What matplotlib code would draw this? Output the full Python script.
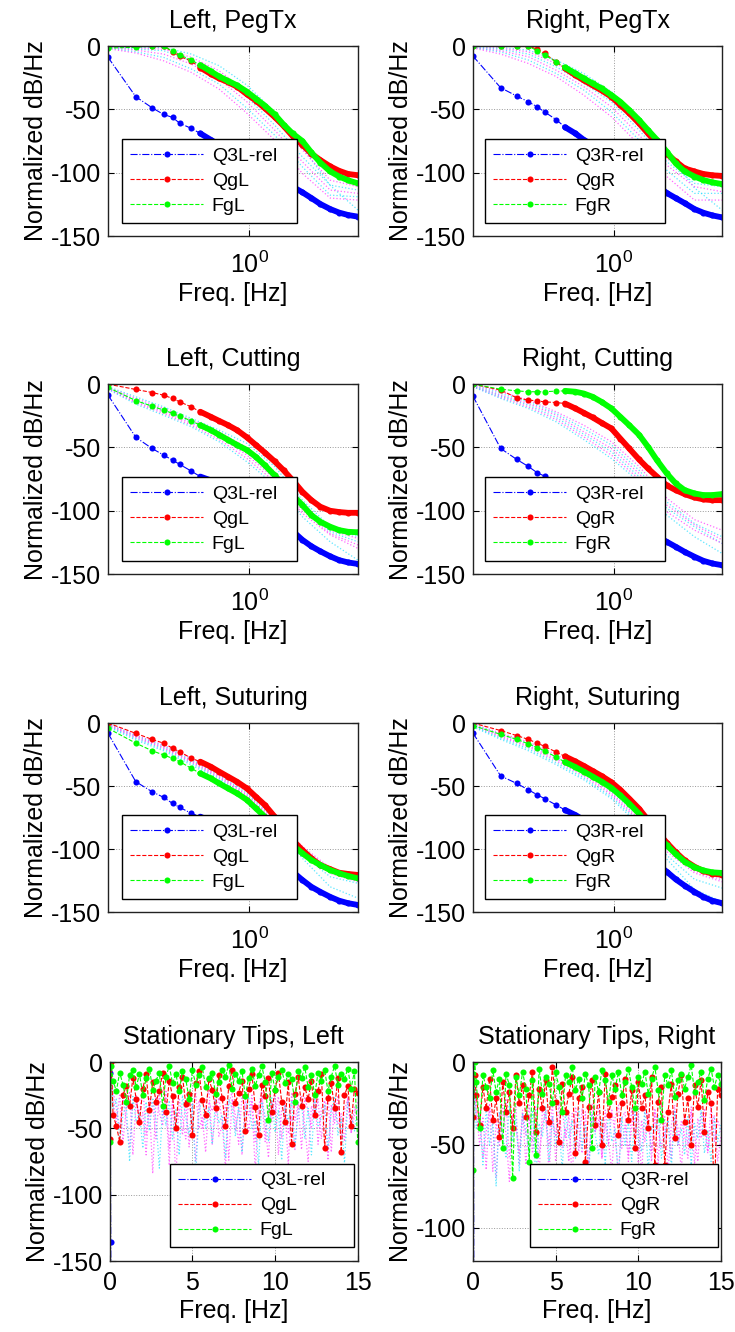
import numpy as np
import matplotlib
matplotlib.use("Agg")
import matplotlib.pyplot as plt
from matplotlib.ticker import FixedLocator, NullLocator

plt.rcParams['font.family'] = ['Liberation Sans', 'DejaVu Sans']
plt.rcParams['mathtext.fontset'] = 'custom'
plt.rcParams['mathtext.rm'] = 'Liberation Sans'
plt.rcParams['mathtext.it'] = 'Liberation Sans'
plt.rcParams['mathtext.default'] = 'regular'
plt.rcParams['axes.unicode_minus'] = False

# ---- frequency grids (Hz) ----
freq_log = [0.0293, 0.0586, 0.0879, 0.1172, 0.1465, 0.1758, 0.2344, 0.2930, 0.3809,
            0.4688, 0.5859, 0.7324, 0.9375, 1.1719, 1.4648, 1.8750, 2.3438, 2.9297,
            3.7500, 4.6875, 5.8594, 7.5000, 9.3750, 11.7188, 15.0000]
faint_freq = [0.0293, 0.0586, 0.1172, 0.2344, 0.4688, 0.9375, 1.875, 3.75, 7.5, 15.0]

# ---- PegTx ----
peg_l_q3 = [-8.9, -40, -48.7, -54, -56.3, -61, -65, -69, -74, -78, -82, -86, -90, -94, -98,
            -103, -107, -111, -115.5, -120, -124.7, -128.7, -131.5, -133.4, -134.7]
peg_l_qg = [0, 0, 0, 0, -4.5, -8, -12, -17, -22, -25.5, -28.5, -32, -38, -43, -49,
            -56, -63, -71, -78, -85, -90, -95, -98.5, -101, -102]
peg_l_fg = [-1.5, -1, 0, 0, -4, -7, -11, -15, -20, -24, -27.5, -31, -36, -41.5, -47,
            -54, -62, -69, -75, -84, -92, -99, -103, -106, -108.4]
peg_l_faint = [[0, -1, -1, -6.3, -15.5, -30.8, -52, -80, -110, -129.5],
               [0, -1.5, -2.4, -8.9, -19.5, -36, -55.8, -82, -105.9, -111],
               [-0.5, -2.4, -3.6, -11.6, -23.4, -40, -62.4, -87.5, -109.8, -113.7],
               [-1, -3.2, -6.3, -14.2, -26, -44, -66.3, -91.4, -113.7, -116.3],
               [-1.5, -4.5, -8.9, -18.1, -30, -49, -70.3, -95.4, -117.7, -119],
               [-2, -5.5, -11.6, -20.8, -34, -53, -74.2, -100.6, -120, -121.6]]

peg_r_q3 = [-7.9, -32.9, -39.5, -44, -48, -52, -58, -64, -69, -74, -78, -83, -88, -92, -96,
            -101, -105, -110, -116, -120, -124, -128.7, -131.6, -133.7, -135.3]
peg_r_qg = [0, 0, 0, 0, -2.4, -5.8, -12.4, -17.6, -23, -27, -31, -35, -40, -46.6, -53,
            -61, -69, -77, -85, -91, -96.6, -99, -101, -102, -102.6]
peg_r_fg = [0, 0, 0, 0, -3.7, -7, -12.4, -16.8, -21.6, -25.5, -29.5, -33.4, -38.7, -44, -50.5,
            -58.4, -66.3, -74, -83.4, -92.6, -99, -103, -105.8, -107.6, -109]
peg_r_faint = [[0, -1, -3.2, -11, -21.6, -36, -55.8, -83.4, -112, -129.5],
               [0, -1.8, -4.5, -13.7, -25.5, -40, -61, -88.7, -104.5, -108.4],
               [-0.5, -2.6, -6.3, -16.3, -29.5, -44, -66.3, -91.3, -108.4, -111],
               [-1, -3.7, -8.4, -19, -32, -48, -70.3, -94, -111, -115],
               [-1, -4.7, -11, -21.6, -34.7, -52, -74.2, -98, -116.3, -116.3],
               [-1.5, -6.3, -13.7, -24, -38.7, -55.8, -78, -103, -121.6, -121.6]]

# ---- Cutting ----
cut_l_q3 = [-8.7, -42, -50.8, -56, -60, -63.4, -68.7, -73, -76, -80, -84, -88, -93, -97, -102,
            -107, -112, -116, -123, -128, -132, -136, -139, -140.8, -142]
cut_l_qg = [0, -4.2, -6.6, -8.7, -11.3, -14, -18, -21.8, -25.8, -29, -32.4, -36.3, -42, -48, -54,
            -61, -68, -75.8, -85, -91.6, -96.8, -100, -101, -101.6, -101.6]
cut_l_fg = [-2.6, -13, -17.4, -20.5, -23, -25.3, -29, -32.4, -36.3, -40, -44, -48, -52, -57.4, -64,
            -72, -80, -87.6, -95.5, -103.4, -108.7, -112.6, -115.3, -116.6, -117]
cut_l_faint = [[-2, -10, -17.9, -27, -36.3, -46.8, -65, -91.6, -112.6, -120.5],
               [-2.5, -11.3, -19.2, -28.4, -37.6, -50, -69, -94, -115.3, -121.8],
               [-3, -12.6, -20.5, -29.7, -39.5, -53.4, -71.8, -96.8, -116.6, -124.5],
               [-3.4, -14, -21.8, -31, -41.6, -56, -74.5, -99.5, -118, -127],
               [-3.8, -14.7, -23.2, -32.4, -43.7, -58.7, -77, -102, -119, -129.7],
               [-4, -15.8, -24.5, -33.7, -45.5, -61.3, -79.7, -104.7, -124.5, -139]]

cut_r_q3 = [-9.5, -50.8, -59.5, -65, -70, -72.6, -77, -81, -85, -89, -93, -97, -101, -105, -109,
            -113, -117, -120, -124.5, -128.4, -132.4, -136.3, -139.5, -141.6, -143]
cut_r_qg = [0, -4.7, -10.8, -12.6, -13.2, -14, -14.5, -15.3, -19.2, -22.6, -26.3, -30.5, -35, -43, -50.8,
            -59.5, -66.6, -73, -80, -83.7, -86.8, -89.5, -91, -91.6, -91.6]
cut_r_fg = [0, -4, -5.3, -6, -6, -6, -5.5, -5.3, -6, -7.4, -10, -14, -19.2, -25.8, -32.4,
            -40, -49.5, -60, -70.5, -78.4, -83.7, -86.3, -87.6, -87.6, -86.8]
cut_r_faint = [[0, -6, -12.6, -21.8, -32.4, -45.5, -65, -90, -107, -115.3],
               [-0.5, -7.4, -14, -23.2, -35, -48, -68, -93, -110, -120.5],
               [-1, -8.7, -15.3, -24.5, -37.6, -50.8, -70.5, -95.5, -111, -123],
               [-1.5, -9.5, -16.6, -26.3, -39.5, -53.4, -73, -98, -112.6, -125.8],
               [-2, -10.5, -17.9, -27.9, -41.6, -56, -75, -100.8, -115.3, -125.8],
               [-2, -11.3, -19.2, -29.7, -43.7, -58.7, -77, -103.4, -120.5, -133.7]]

# ---- Suturing ----
sut_l_q3 = [-8.2, -46.6, -54.5, -59, -63.8, -67, -71.7, -74.3, -78, -82, -86, -90, -94, -98, -102,
            -108, -113, -118, -124.6, -130, -134, -138, -141, -143, -144.4]
sut_l_qg = [0, -8.2, -13, -16, -20, -22.8, -28, -30.7, -34.7, -38.6, -42.6, -46.6, -51.9, -58.5, -65,
            -74.3, -83.6, -92.9, -100.8, -107.4, -112.7, -116, -118.8, -119.8, -120.6]
sut_l_fg = [-4.2, -16, -22, -25.4, -28, -30.7, -36, -40, -44, -47.9, -51.9, -55.8, -61, -67.7, -74.3,
            -82.3, -90.2, -96.8, -103.4, -108.7, -112.7, -116.7, -119.3, -121.4, -123.3]
sut_l_faint = [[-0.5, -9.5, -17.5, -28, -40, -54.5, -74.3, -98, -115, -123.3],
               [-1, -10.3, -18.3, -29.4, -41.3, -55.8, -75.7, -99.5, -116.7, -124.6],
               [-1.5, -10.8, -19.3, -30.2, -42, -57, -77, -100.8, -118, -125.4],
               [-2, -11.6, -20, -31, -43, -58, -78.3, -103.4, -119.3, -126],
               [-2.5, -12.4, -20.9, -32, -44, -59, -79.6, -104.8, -122, -127.2],
               [-3, -13.5, -22, -33.3, -45.2, -60.6, -81, -107.4, -130, -139]]

sut_r_q3 = [-8, -42, -48, -53, -57, -60, -65, -69, -73, -77, -81, -85, -89, -93, -97,
            -102, -107, -112, -118, -124, -129, -134, -138, -141, -143]
sut_r_qg = [0, -6, -10, -13, -16, -18.5, -23, -26.5, -30.5, -34, -38, -42, -47, -53, -60,
            -68, -77, -86, -95, -102.5, -109, -114, -117.5, -119.5, -120.5]
sut_r_fg = [-2, -9, -13, -16.5, -19.5, -22, -27, -31, -35, -38.5, -42.5, -46.5, -51.5, -57.5, -64,
            -72, -80.5, -89, -97, -104, -110, -114.5, -117, -118.5, -119]
sut_r_faint = [[-0.5, -8, -15, -25, -37, -52, -72, -96, -114, -121],
               [-1, -9, -16.5, -27, -39, -54, -74, -98, -116, -123],
               [-1.5, -10, -18, -28.5, -40.5, -55.5, -76, -100, -117.5, -124.5],
               [-2, -11, -19, -30, -42, -57, -77.5, -102, -119, -126],
               [-2.5, -12, -20.5, -31.5, -43.5, -58.5, -79, -105, -124, -131],
               [-3, -13, -22, -33, -45, -60, -81, -108, -132, -142]]

# ---- Stationary tips (linear frequency) ----
freq_lin = [0.0, 0.1, 0.2, 0.4, 0.6, 0.8, 1.0, 1.2, 1.4, 1.6, 1.8, 2.0, 2.2, 2.4, 2.6, 2.8, 3.0,
            3.2, 3.4, 3.6, 3.8, 4.0, 4.2, 4.4, 4.6, 4.8, 5.0, 5.2, 5.4, 5.6, 5.8, 6.0, 6.2, 6.4,
            6.6, 6.8, 7.0, 7.2, 7.4, 7.6, 7.8, 8.0, 8.2, 8.4, 8.6, 8.8, 9.0, 9.2, 9.4, 9.6, 9.8,
            10.0, 10.2, 10.4, 10.6, 10.8, 11.0, 11.2, 11.4, 11.6, 11.8, 12.0, 12.2, 12.4, 12.6,
            12.8, 13.0, 13.2, 13.4, 13.6, 13.8, 14.0, 14.2, 14.4, 14.6, 14.8, 15.0]
q3_tip_freq = [0.0, 0.03, 0.06, 0.1, 15.0]
tip_l_q3 = [0, -8, -136, -300, -300]
tip_r_q3 = [0, -8, -200, -300, -300]

tip_l_fg = [-60, -3,
            -14, -22, -8, -17, -30, -10, -6, -19, -9, -25, -12, -5, -21, -14, -8,
            -33, -11, -3, -16, -9, -22, -7, -13, -28, -6, -17, -10, -4, -19, -12,
            -8, -24, -15, -6, -11, -2, -20, -9, -14, -7, -26, -12, -5, -18, -10,
            -3, -15, -44, -8, -21, -11, -6, -16, -9, -13, -30, -7, -12, -4, -19,
            -10, -25, -8, -14, -6, -22, -11, -3, -17, -9, -13, -5, -20, -7, -60]
tip_l_qg = [-58, 0,
            -40, -48, -60, -25, -18, -33, -12, -28, -45, -20, -9, -36, -15, -30, -22,
            -8, -38, -14, -26, -50, -19, -11, -32, -24, -55, -16, -7, -29, -40, -13,
            -21, -35, -10, -27, -48, -18, -6, -31, -23, -14, -52, -20, -9, -34, -55,
            -17, -26, -12, -38, -21, -8, -30, -45, -15, -62, -24, -11, -33, -19, -28,
            -14, -40, -22, -9, -65, -27, -16, -35, -12, -68, -25, -18, -48, -20, -23]
tip_l_faint = [[-20, -5,
                -30, -45, -25, -60, -35, -22, -70, -28, -40, -18, -55, -32, -84, -26, -38,
                -48, -21, -65, -30, -90, -27, -42, -58, -24, -36, -75, -29, -50, -33, -20,
                -62, -38, -27, -45, -80, -31, -23, -52, -35, -70, -28, -41, -25, -60, -34,
                -22, -48, -72, -30, -39, -26, -58, -33, -78, -24, -44, -31, -66, -27, -37,
                -50, -23, -62, -35, -29, -74, -32, -46, -25, -58, -36, -28, -54, -40, -30],
               [-25, -8,
                -22, -35, -50, -28, -44, -65, -30, -25, -48, -38, -70, -27, -33, -58, -24,
                -40, -31, -78, -26, -45, -36, -55, -29, -64, -34, -23, -50, -42, -68, -30,
                -37, -26, -56, -48, -32, -74, -28, -40, -62, -25, -35, -52, -30, -82, -38,
                -27, -60, -33, -45, -24, -70, -36, -29, -54, -41, -66, -31, -26, -48, -75,
                -33, -42, -28, -58, -36, -24, -68, -30, -47, -39, -60, -27, -52, -34, -44],
               [-30, -10,
                -35, -28, -60, -40, -32, -75, -26, -45, -38, -65, -30, -52, -27, -44, -80,
                -33, -48, -29, -58, -36, -70, -25, -42, -55, -31, -85, -38, -27, -50, -34,
                -62, -29, -46, -40, -72, -28, -35, -56, -32, -68, -37, -26, -50, -44, -78,
                -30, -41, -60, -27, -53, -36, -74, -33, -45, -29, -64, -39, -31, -58, -35,
                -70, -28, -48, -42, -32, -66, -37, -26, -55, -43, -76, -30, -40, -52, -34]]

tip_r_fg = [-65, 0,
            -12, -40, -8, -15, -22, -5, -18, -10, -52, -7, -14, -70, -9, -20, -6,
            -16, -60, -11, -56, -4, -19, -9, -13, -25, -6, -15, -30, -8, -12, -3,
            -17, -10, -22, -7, -14, -52, -9, -18, -5, -11, -24, -8, -16, -6, -20,
            -12, -4, -15, -28, -9, -13, -6, -19, -10, -3, -17, -35, -8, -14, -5,
            -21, -11, -7, -16, -9, -2, -18, -12, -6, -23, -10, -4, -15, -8, -13]
tip_r_qg = [-33, -8,
            -20, -38, -15, -28, -10, -35, -22, -45, -12, -30, -18, -40, -8, -25, -14,
            -33, -20, -6, -42, -16, -28, -11, -36, -3, -24, -48, -13, -30, -19, -9,
            -55, -22, -15, -60, -27, -11, -38, -18, -50, -7, -32, -21, -14, -44, -25,
            -10, -35, -17, -52, -12, -28, -20, -40, -9, -62, -24, -15, -62, -30, -13,
            -46, -19, -8, -36, -22, -50, -14, -27, -11, -42, -18, -25, -80, -16, -20]
tip_r_faint = [[-20, -10,
                -28, -50, -33, -65, -25, -40, -70, -30, -45, -22, -58, -35, -27, -62, -31,
                -44, -26, -55, -38, -68, -29, -34, -50, -24, -60, -36, -28, -46, -32, -72,
                -27, -40, -55, -30, -64, -25, -42, -35, -58, -29, -48, -66, -33, -26, -52,
                -38, -60, -28, -44, -31, -70, -27, -36, -54, -30, -62, -25, -46, -34, -58,
                -29, -40, -66, -32, -50, -27, -44, -60, -30, -38, -55, -26, -48, -35, -42],
               [-25, -12,
                -35, -30, -58, -42, -28, -66, -36, -50, -26, -44, -72, -32, -40, -55, -29,
                -62, -34, -48, -27, -56, -38, -30, -68, -33, -45, -25, -52, -40, -60, -31,
                -36, -54, -28, -46, -64, -32, -42, -26, -58, -37, -50, -29, -44, -68, -34,
                -30, -56, -40, -27, -62, -35, -48, -31, -60, -28, -42, -52, -33, -66, -38,
                -26, -50, -36, -44, -58, -30, -62, -34, -46, -28, -54, -40, -32, -60, -44],
               [-30, -15,
                -40, -32, -62, -28, -50, -36, -75, -30, -44, -58, -26, -48, -34, -66, -31,
                -42, -55, -29, -70, -37, -45, -27, -60, -33, -50, -40, -64, -30, -46, -35,
                -58, -28, -52, -38, -68, -31, -44, -56, -34, -62, -29, -48, -40, -72, -33,
                -50, -36, -60, -30, -46, -54, -28, -66, -38, -42, -32, -58, -44, -35, -64,
                -30, -50, -40, -56, -33, -62, -37, -46, -29, -55, -41, -60, -34, -48, -38]]

BLUE, RED, GREEN = '#0000ff', '#ff0000', '#00ff00'
FAINT = {'c': '#33e0ff', 'm': '#ff44ff'}

fig = plt.figure(figsize=(7.35, 13.32), dpi=100)

cols_x = [(0.147, 0.340), (0.6435, 0.339)]
rows_y = [(0.8228, 0.1426), (0.569, 0.1426), (0.3153, 0.1419)]


def style_axes(ax, xpad):
    for sp in ax.spines.values():
        sp.set_linewidth(1.0)
        sp.set_color('#222222')
    ax.tick_params(direction='in', top=True, right=True, length=4, width=0.8,
                   labelsize=18, pad=5)
    ax.tick_params(axis='x', pad=xpad)
    ax.grid(True, ls=':', color='0.6', lw=0.7)
    ax.set_axisbelow(True)
    ax.set_xlabel('Freq. [Hz]', fontsize=18, labelpad=3)
    ax.set_ylabel('Normalized dB/Hz', fontsize=18, labelpad=2)


def add_legend(ax, side, x0, w):
    leg = ax.legend(loc='lower left', bbox_to_anchor=(x0, 0.068, w, 0.4), mode='expand',
                    fontsize=14, handlelength=3.75, handletextpad=0.45, borderpad=0.42,
                    labelspacing=0.38, fancybox=False, framealpha=1, edgecolor='black',
                    borderaxespad=0, numpoints=1)
    leg.get_frame().set_linewidth(1.0)
    leg.set_zorder(20)


def log_panel(ax, title, side, q3, qg, fg, faint, faint_cols, leg_x):
    f = np.array(freq_log)
    for vals, c in zip(faint, faint_cols):
        ax.plot(faint_freq, vals, ':', color=FAINT[c], lw=0.9, alpha=0.8)
    for vals, col, ls, lab in [(q3, BLUE, '-.', 'Q3%s-rel' % side),
                               (qg, RED, '--', 'Qg%s' % side),
                               (fg, GREEN, '--', 'Fg%s' % side)]:
        v = np.array(vals)
        band = f >= 0.29
        ax.plot(f[band], v[band], '-', color=col, lw=4.2, solid_capstyle='round')
        ax.plot(f, v, ls, color=col, lw=0.8, marker='o', ms=4.4, mew=0, label=lab)
    ax.set_xscale('log')
    ax.set_xlim(0.0293, 15.0)
    ax.xaxis.set_major_locator(FixedLocator([1.0]))
    ax.xaxis.set_minor_locator(NullLocator())
    ax.set_ylim(-150, 0)
    ax.set_yticks([-150, -100, -50, 0])
    ax.set_title(title, fontsize=18, pad=13)
    style_axes(ax, 11)
    add_legend(ax, side, *leg_x)


log_specs = [
    ('Left, PegTx', 'L', peg_l_q3, peg_l_qg, peg_l_fg, peg_l_faint, 'cmcmcm'),
    ('Right, PegTx', 'R', peg_r_q3, peg_r_qg, peg_r_fg, peg_r_faint, 'cmcmcm'),
    ('Left, Cutting', 'L', cut_l_q3, cut_l_qg, cut_l_fg, cut_l_faint, 'cmcmmc'),
    ('Right, Cutting', 'R', cut_r_q3, cut_r_qg, cut_r_fg, cut_r_faint, 'mcmcmc'),
    ('Left, Suturing', 'L', sut_l_q3, sut_l_qg, sut_l_fg, sut_l_faint, 'mcmmcc'),
    ('Right, Suturing', 'R', sut_r_q3, sut_r_qg, sut_r_fg, sut_r_faint, 'mcmmcc'),
]
leg_pos = [(0.056, 0.70), (0.048, 0.723)]

for i, spec in enumerate(log_specs):
    r, c = divmod(i, 2)
    ax = fig.add_axes([cols_x[c][0], rows_y[r][0], cols_x[c][1], rows_y[r][1]])
    log_panel(ax, *spec, leg_pos[c])

# ---- bottom row: stationary tips ----
tip_specs = [
    ('Stationary Tips, Left', 'L', tip_l_q3, tip_l_qg, tip_l_fg, tip_l_faint, 'mmc',
     [0.1493, 0.0533, 0.3374, 0.1494], (-150, 0), [-150, -100, -50, 0], (0.243, 0.742)),
    ('Stationary Tips, Right', 'R', tip_r_q3, tip_r_qg, tip_r_fg, tip_r_faint, 'mmc',
     [0.6435, 0.0533, 0.3374, 0.1494], (-120, 0), [-100, -50, 0], (0.23, 0.76)),
]
for title, side, q3, qg, fg, faint, fc, rect, ylim, yt, lx in tip_specs:
    ax = fig.add_axes(rect)
    for vals, c in zip(faint, fc):
        ax.plot(freq_lin, vals, ':', color=FAINT[c], lw=0.9, alpha=0.8)
    ax.plot(q3_tip_freq, q3, '-.', color=BLUE, lw=0.8, marker='o', ms=4.4, mew=0,
            label='Q3%s-rel' % side)
    ax.plot(freq_lin, qg, '--', color=RED, lw=0.8, marker='o', ms=4.4, mew=0,
            label='Qg%s' % side)
    ax.plot(freq_lin, fg, '--', color=GREEN, lw=0.8, marker='o', ms=4.4, mew=0,
            label='Fg%s' % side)
    ax.set_xlim(0, 15)
    ax.set_xticks([0, 5, 10, 15])
    ax.set_ylim(*ylim)
    ax.set_yticks(yt)
    ax.set_title(title, fontsize=18, pad=13)
    style_axes(ax, 7)
    add_legend(ax, side, *lx)

fig.savefig('out.png', dpi=100)
